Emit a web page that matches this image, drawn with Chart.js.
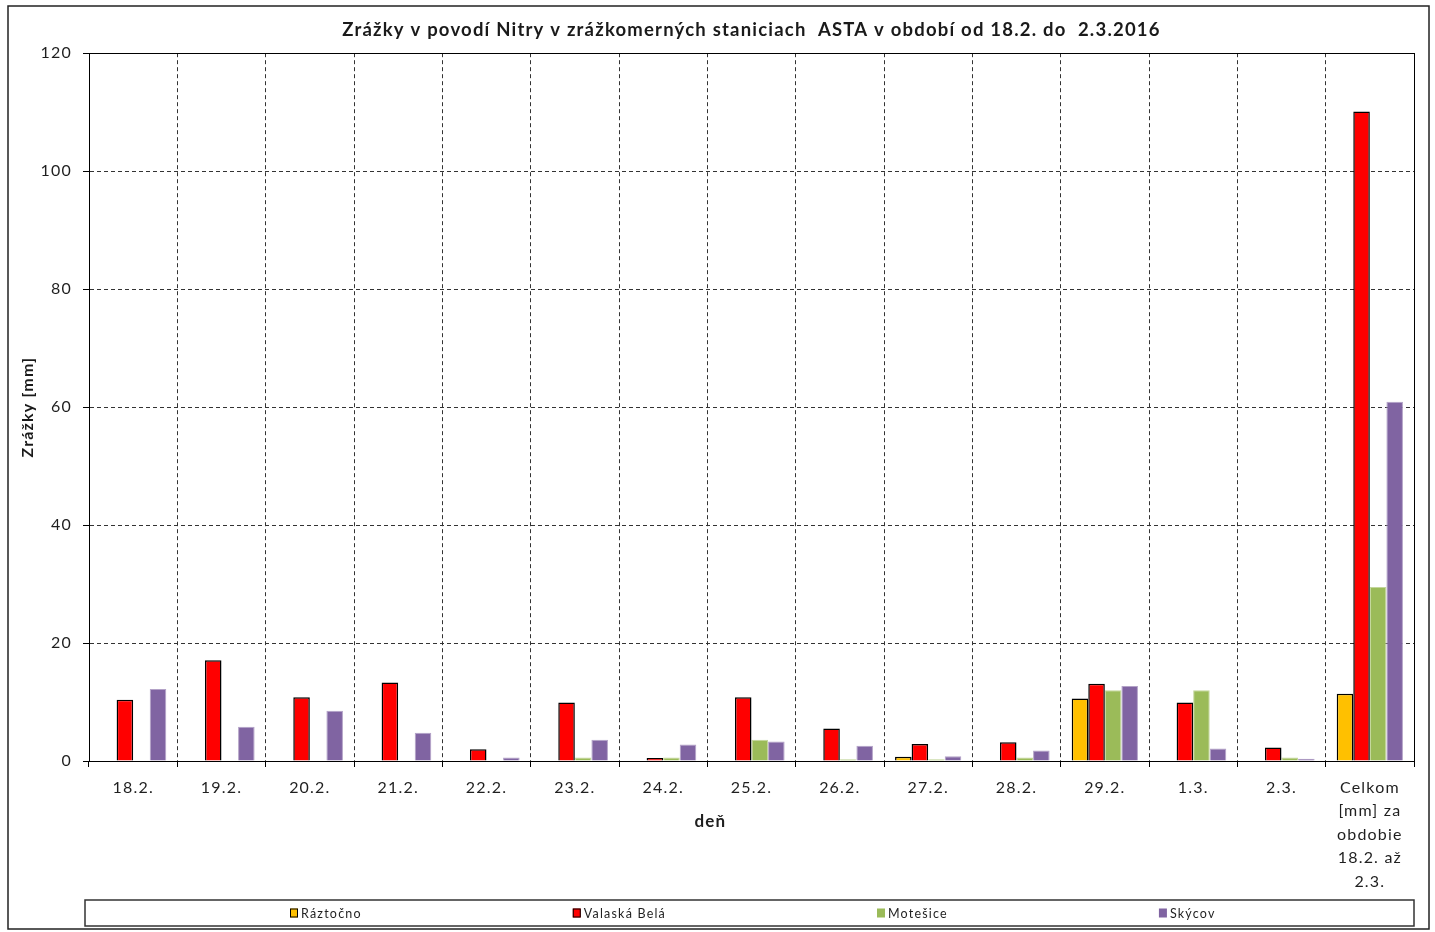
<!DOCTYPE html>
<html lang="sk">
<head>
<meta charset="utf-8">
<title>Zrážky v povodí Nitry</title>
<script src="https://cdn.jsdelivr.net/npm/chart.js@4.4.1/dist/chart.umd.min.js"></script>
<style>
  html, body { margin: 0; padding: 0; background: #fff; }
  #wrap { position: relative; width: 1435px; height: 932px; }
</style>
</head>
<body>
<div id="wrap"><canvas id="zrazky" width="1435" height="932"></canvas></div>
<script>
/* ===============================
   DATA
================================ */
const dni = ["18.2.", "19.2.", "20.2.", "21.2.", "22.2.", "23.2.", "24.2.", "25.2.",
             "26.2.", "27.2.", "28.2.", "29.2.", "1.3.", "2.3.",
             ["Celkom", "[mm] za", "obdobie", "18.2. až", "2.3."]];

const raztocno    = [null, null, null, null, null, null, null, null, null, 0.7, null, 10.6, null, null, 11.4];
const valaskaBela = [10.4, 17.1, 10.8, 13.3, 2.0, 9.9, 0.5, 10.8, 5.5, 2.9, 3.2, 13.1, 9.9, 2.3, 110.1];
const motesice    = [null, null, null, null, null, 0.6, 0.6, 3.6, 0.3, 0.3, 0.6, 12.0, 12.0, 0.6, 29.5];
const skycov      = [12.2, 5.8, 8.5, 4.8, 0.6, 3.6, 2.8, 3.3, 2.6, 0.8, 1.8, 12.7, 2.1, 0.4, 60.9];

const osY = [0, 20, 40, 60, 80, 100, 120];

const FONT = 'Lato, "Liberation Sans", sans-serif';
Chart.defaults.font.family = FONT;
Chart.defaults.color = '#1f1f1f';

/* ===============================
   WIDER TEXT (Excel-like spacing)
================================ */
const rozostup = {
    id: "rozostup",
    beforeUpdate(chart) { chart.ctx.letterSpacing = "1.2px"; },
    beforeDraw(chart) { chart.ctx.letterSpacing = "1.2px"; }
};

/* ===============================
   FRAME, AXIS TITLE, LEGEND
================================ */
const ramik = {
    id: "ramik",
    afterDraw(chart) {
        const { ctx, chartArea: a } = chart;
        ctx.save();

        // plot area border (top + right are not drawn by the axes)
        ctx.strokeStyle = "#000";
        ctx.lineWidth = 1;
        ctx.strokeRect(Math.round(a.left) + 0.5, Math.round(a.top) + 0.5,
                       Math.round(a.width), Math.round(a.height));

        // outer frame
        ctx.strokeStyle = "#222";
        ctx.lineWidth = 1.5;
        ctx.strokeRect(8, 6, 1421, 923);

        // x axis title
        ctx.fillStyle = "#1f1f1f";
        ctx.font = "bold 17px " + FONT;
        ctx.textAlign = "center";
        ctx.textBaseline = "middle";
        ctx.fillText("deň", a.left + a.width * 0.469, 822);

        // legend box
        const boxL = a.left - 4, boxR = a.right, boxT = 900, boxH = 26;
        ctx.strokeStyle = "#333";
        ctx.lineWidth = 1.5;
        ctx.strokeRect(boxL, boxT, boxR - boxL, boxH);

        ctx.font = "12.5px " + FONT;
        ctx.textAlign = "left";
        const gap = 210, mark = 8;
        const sets = chart.data.datasets;
        const widths = sets.map(d => mark + 4 + ctx.measureText(d.label).width);
        const total = widths.reduce((s, w) => s + w, 0) + gap * (sets.length - 1);
        let x = Math.round((boxL + boxR) / 2 - total / 2 + 4);
        const cy = boxT + boxH / 2;
        sets.forEach((d, i) => {
            ctx.fillStyle = d.backgroundColor;
            ctx.fillRect(x, cy - 4.5, mark, 9);
            if (d.borderColor === "#000") {
                ctx.strokeStyle = "#000";
                ctx.lineWidth = 1;
                ctx.strokeRect(x + 0.5, cy - 4, mark - 1, 8);
            }
            ctx.fillStyle = "#1f1f1f";
            ctx.fillText(d.label, x + mark + 3, cy + 0.5);
            x += widths[i] + gap;
        });

        ctx.restore();
    }
};

/* ===============================
   CHART
================================ */
new Chart(document.getElementById("zrazky"), {
    type: "bar",
    data: {
        labels: dni,
        datasets: [
            { label: "Ráztočno", data: raztocno, backgroundColor: "#FFC000", borderColor: "#000", borderWidth: 1.5 },
            { label: "Valaská Belá", data: valaskaBela, backgroundColor: "#FF0000", borderColor: "#000", borderWidth: 1.5 },
            { label: "Motešice", data: motesice, backgroundColor: "#9BBB59", borderColor: "#C3D69B", borderWidth: 1 },
            { label: "Skýcov", data: skycov, backgroundColor: "#8064A2", borderColor: "#B3A2C7", borderWidth: 1 }
        ]
    },
    options: {
        responsive: false,
        animation: false,
        devicePixelRatio: 1,
        layout: { padding: { left: 0, right: 21, top: 0, bottom: 0 } },
        datasets: { bar: { categoryPercentage: 0.75, barPercentage: 1 } },
        plugins: {
            legend: { display: false },
            tooltip: { enabled: false },
            title: {
                display: true,
                fullSize: false,
                text: "Zrážky v povodí Nitry v zrážkomerných staniciach  ASTA v období od 18.2. do  2.3.2016",
                font: { size: 18.5, weight: "bold" },
                color: "#1a1a1a",
                padding: { top: 19, bottom: 12 }
            }
        },
        scales: {
            x: {
                afterFit: s => { s.height = 171; },
                grid: {
                    color: c => c.index === 0 ? "rgba(0,0,0,0)" : "#333",
                    lineWidth: 1, tickLength: 6, tickColor: "#000"
                },
                border: { color: "#000", width: 1, dash: [4, 3] },
                ticks: { font: { size: 16, lineHeight: 1.47 }, padding: 9, maxRotation: 0, autoSkip: false, color: "#1f1f1f" }
            },
            y: {
                min: 0,
                max: 120,
                afterBuildTicks: s => { s.ticks = osY.map(v => ({ value: v })); },
                afterFit: s => { s.width = 89; },
                grid: { color: "#333", lineWidth: 1, tickLength: 6, tickColor: "#000" },
                border: { color: "#000", width: 1, dash: [4, 3] },
                ticks: { font: { size: 16 }, padding: 11, color: "#1f1f1f" },
                title: {
                    display: true,
                    text: "Zrážky [mm]",
                    font: { size: 16, weight: "bold" },
                    color: "#1a1a1a",
                    padding: { top: 18, bottom: 0 }
                }
            }
        }
    },
    plugins: [rozostup, ramik]
});
</script>
</body>
</html>
